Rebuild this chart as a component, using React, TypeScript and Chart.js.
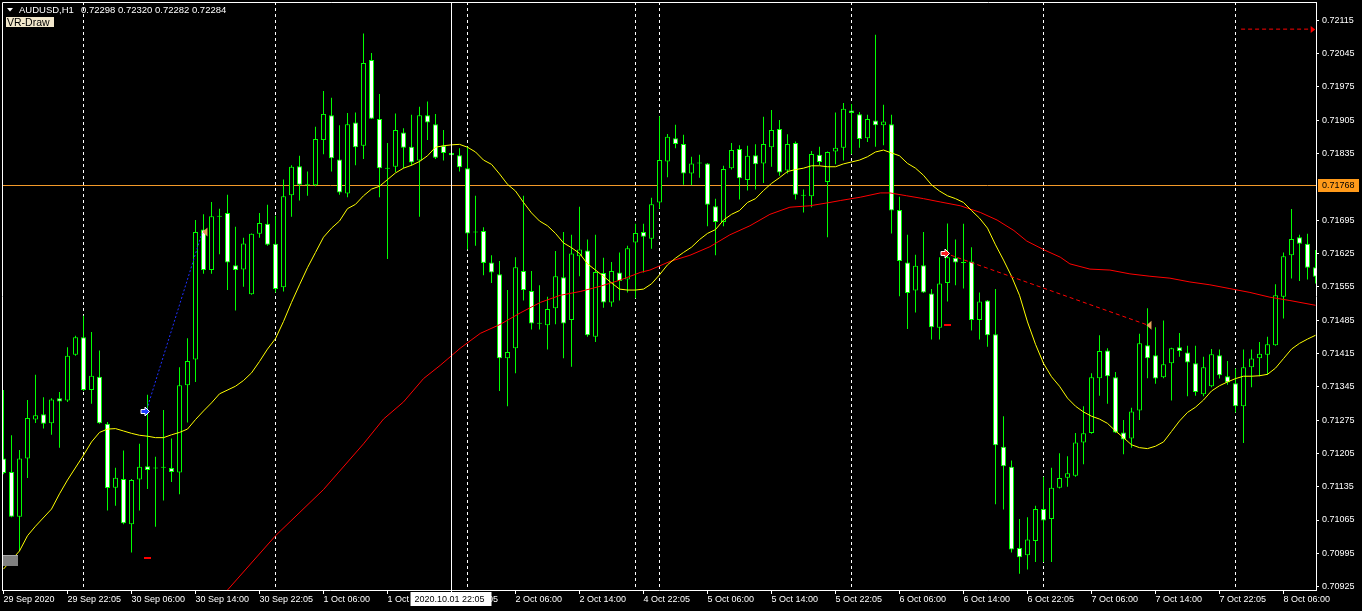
import React, { useEffect, useRef } from 'react';
import { Chart, registerables } from 'chart.js';

Chart.register(...registerables);

// ---------- DATA (AUDUSD H1, one value per bar, bar 0 = 29 Sep 2020 14:00) ----------
const opens = [
  0.71194,0.71166,0.71072,0.71194,0.71276,0.71287,0.71268,0.71321,0.71316,0.71412,
  0.71449,0.71338,0.71366,0.71267,0.71133,0.71151,0.71056,0.71150,0.71178,0.71174,
  0.71175,0.71174,0.71165,0.71348,0.71402,0.71675,0.71590,0.71704,0.71710,0.71600,
  0.71591,0.71539,0.71666,0.71687,0.71645,0.71554,0.71747,0.71808,0.71769,0.71768,
  0.71863,0.71915,0.71822,0.71751,0.71900,0.71851,0.72031,0.71907,0.71805,0.71807,
  0.71879,0.71849,0.71820,0.71915,0.71896,0.71851,0.71836,0.71831,0.71804,0.71671,
  0.71672,0.71606,0.71581,0.71405,0.71426,0.71588,0.71546,0.71478,0.71474,0.71510,
  0.71575,0.71485,0.71619,0.71631,0.71450,0.71584,0.71522,0.71585,0.71570,0.71648,
  0.71670,0.71656,0.71732,0.71818,0.71867,0.71855,0.71793,0.71814,0.71814,0.71724,
  0.71691,0.71804,0.71844,0.71779,0.71831,0.71814,0.71848,0.71886,0.71799,0.71857,
  0.71747,0.71745,0.71832,0.71775,0.71839,0.71847,0.71925,0.71917,0.71867,0.71904,
  0.71894,0.71896,0.71716,0.71606,0.71547,0.71600,0.71541,0.71469,0.71563,0.71616,
  0.71607,0.71608,0.71485,0.71526,0.71455,0.71219,0.71177,0.71006,0.70991,0.71021,
  0.71088,0.71067,0.71133,0.71154,0.71158,0.71228,0.71248,0.71363,0.71421,0.71365,
  0.71249,0.71236,0.71295,0.71432,0.71411,0.71365,0.71394,0.71428,0.71417,0.71394,
  0.71329,0.71346,0.71411,0.71367,0.71352,0.71304,0.71386,0.71405,0.71412,0.71432,
  0.71534,0.71621,0.71659,0.71645,0.71596,
];
const highs = [
  0.71338,0.71243,0.71212,0.71317,0.71370,0.71323,0.71321,0.71334,0.71428,0.71452,
  0.71494,0.71460,0.71421,0.71271,0.71175,0.71211,0.71151,0.71225,0.71328,0.71198,
  0.71296,0.71236,0.71386,0.71447,0.71695,0.71707,0.71733,0.71719,0.71748,0.71681,
  0.71658,0.71667,0.71710,0.71727,0.71704,0.71780,0.71810,0.71830,0.71797,0.71891,
  0.71966,0.71952,0.71894,0.71920,0.71921,0.72087,0.72046,0.71960,0.71857,0.71919,
  0.71888,0.71916,0.71933,0.71944,0.71918,0.71884,0.71838,0.71846,0.71849,0.71746,
  0.71680,0.71621,0.71609,0.71548,0.71617,0.71746,0.71588,0.71558,0.71534,0.71630,
  0.71670,0.71664,0.71723,0.71654,0.71664,0.71616,0.71607,0.71627,0.71641,0.71687,
  0.71687,0.71742,0.71913,0.71876,0.71895,0.71874,0.71828,0.71832,0.71815,0.71740,
  0.71809,0.71857,0.71852,0.71851,0.71854,0.71912,0.71926,0.71905,0.71875,0.71860,
  0.71759,0.71840,0.71849,0.71839,0.71921,0.71941,0.71939,0.71922,0.71916,0.72084,
  0.71937,0.71916,0.71744,0.71664,0.71622,0.71670,0.71550,0.71617,0.71688,0.71654,
  0.71687,0.71638,0.71543,0.71527,0.71550,0.71283,0.71190,0.71067,0.71071,0.71095,
  0.71156,0.71175,0.71205,0.71199,0.71248,0.71304,0.71373,0.71453,0.71426,0.71376,
  0.71275,0.71301,0.71456,0.71510,0.71470,0.71484,0.71427,0.71458,0.71431,0.71431,
  0.71408,0.71424,0.71423,0.71399,0.71383,0.71423,0.71423,0.71439,0.71450,0.71560,
  0.71627,0.71718,0.71664,0.71666,0.71632,
];
const lows = [
  0.71161,0.71071,0.71000,0.71153,0.71269,0.71257,0.71244,0.71217,0.71313,0.71410,
  0.71336,0.71309,0.71267,0.71085,0.71095,0.71056,0.70997,0.71085,0.71130,0.71051,
  0.71106,0.71145,0.71119,0.71270,0.71355,0.71582,0.71582,0.71623,0.71548,0.71505,
  0.71555,0.71538,0.71658,0.71641,0.71543,0.71545,0.71702,0.71736,0.71746,0.71766,
  0.71833,0.71797,0.71748,0.71743,0.71810,0.71823,0.71907,0.71743,0.71613,0.71796,
  0.71804,0.71809,0.71702,0.71863,0.71823,0.71820,0.71830,0.71797,0.71633,0.71641,
  0.71579,0.71563,0.71336,0.71304,0.71373,0.71526,0.71465,0.71465,0.71423,0.71476,
  0.71405,0.71387,0.71577,0.71450,0.71439,0.71511,0.71513,0.71526,0.71543,0.71531,
  0.71585,0.71635,0.71719,0.71785,0.71846,0.71769,0.71768,0.71784,0.71682,0.71621,
  0.71682,0.71801,0.71738,0.71757,0.71759,0.71773,0.71807,0.71788,0.71793,0.71738,
  0.71711,0.71722,0.71810,0.71659,0.71812,0.71820,0.71833,0.71847,0.71859,0.71849,
  0.71852,0.71667,0.71535,0.71466,0.71501,0.71542,0.71444,0.71444,0.71524,0.71558,
  0.71551,0.71463,0.71444,0.71429,0.71098,0.71087,0.70997,0.70952,0.70961,0.70977,
  0.70977,0.70977,0.71131,0.71135,0.71156,0.71182,0.71246,0.71326,0.71309,0.71248,
  0.71203,0.71217,0.71275,0.71363,0.71351,0.71363,0.71316,0.71408,0.71325,0.71326,
  0.71325,0.71344,0.71362,0.71349,0.71291,0.71227,0.71344,0.71367,0.71370,0.71431,
  0.71488,0.71572,0.71567,0.71570,0.71562,
];
const closes = [
  0.71164,0.71072,0.71194,0.71279,0.71285,0.71267,0.71318,0.71314,0.71410,0.71449,
  0.71338,0.71368,0.71268,0.71132,0.71154,0.71058,0.71149,0.71177,0.71170,0.71173,
  0.71176,0.71166,0.71348,0.71399,0.71670,0.71590,0.71703,0.71702,0.71606,0.71590,
  0.71646,0.71666,0.71689,0.71643,0.71550,0.71745,0.71807,0.71769,0.71768,0.71865,
  0.71918,0.71825,0.71753,0.71896,0.71848,0.72025,0.71908,0.71804,0.71803,0.71884,
  0.71847,0.71816,0.71915,0.71900,0.71826,0.71836,0.71831,0.71806,0.71667,0.71669,
  0.71605,0.71585,0.71405,0.71418,0.71596,0.71548,0.71478,0.71477,0.71508,0.71577,
  0.71478,0.71625,0.71633,0.71453,0.71586,0.71522,0.71588,0.71567,0.71636,0.71668,
  0.71660,0.71728,0.71821,0.71870,0.71855,0.71793,0.71814,0.71815,0.71727,0.71691,
  0.71802,0.71842,0.71783,0.71830,0.71812,0.71855,0.71884,0.71795,0.71855,0.71748,
  0.71746,0.71834,0.71817,0.71838,0.71847,0.71929,0.71920,0.71865,0.71907,0.71894,
  0.71902,0.71715,0.71609,0.71542,0.71599,0.71543,0.71470,0.71562,0.71617,0.71606,
  0.71605,0.71485,0.71524,0.71453,0.71222,0.71178,0.71003,0.70987,0.71024,0.71088,
  0.71064,0.71133,0.71153,0.71163,0.71228,0.71247,0.71365,0.71420,0.71367,0.71249,
  0.71234,0.71293,0.71436,0.71405,0.71362,0.71392,0.71426,0.71420,0.71396,0.71334,
  0.71386,0.71413,0.71369,0.71354,0.71304,0.71386,0.71404,0.71414,0.71434,0.71537,
  0.71619,0.71655,0.71645,0.71595,0.71576,
];

// Yellow (fast) moving average, read per bar
const yellowMaBars = [
  0,2,3,4,6,7,8,10,11,12,13,14,15,16,17,18,19,20,21,22,23,24,25,26,27,
  29,30,31,32,33,34,35,36,37,38,39,40,41,42,43,44,45,46,47,48,49,50,51,52,53,54,55,56,57,58,59,
  60,61,62,63,64,65,66,67,68,69,70,71,72,73,74,75,76,77,78,79,80,81,82,83,84,85,86,87,88,89,
  90,91,92,93,94,95,96,97,98,99,100,101,102,103,104,105,106,107,108,109,110,111,112,113,114,
  115,116,117,118,119,120,121,122,123,124,125,126,127,128,129,130,131,132,133,134,135,136,137,
  138,139,140,141,142,143,144,145,146,147,148,149,150,151,152,153,154,155,156,157,158,159,160,
  161,162,163,164,
];
const yellowMaValues = [
  0.70962,0.71000,0.71032,0.71052,0.71088,0.71120,0.71149,0.71201,0.71229,0.71249,0.71256,0.71257,
  0.71252,0.71247,0.71243,0.71241,0.71238,0.71238,0.71244,0.71249,0.71256,0.71276,0.71294,0.71311,0.71330,
  0.71346,0.71358,0.71374,0.71398,0.71424,0.71446,0.71482,0.71522,0.71559,0.71595,0.71627,0.71659,0.71678,
  0.71693,0.71719,0.71728,0.71746,0.71760,0.71766,0.71780,0.71794,0.71804,0.71810,0.71818,0.71830,0.71848,
  0.71851,0.71853,0.71854,0.71848,0.71838,
  0.71821,0.71812,0.71792,0.71770,0.71756,0.71732,0.71710,0.71693,0.71683,0.71667,0.71647,0.71637,0.71625,
  0.71603,0.71590,0.71577,0.71563,0.71550,0.71548,0.71548,0.71550,0.71561,0.71580,0.71601,0.71615,0.71627,
  0.71638,0.71654,0.71667,0.71675,
  0.71695,0.71707,0.71715,0.71732,0.71740,0.71757,0.71772,0.71784,0.71797,0.71801,0.71804,0.71809,0.71809,
  0.71807,0.71807,0.71813,0.71817,0.71821,0.71828,0.71838,0.71842,0.71836,0.71830,0.71814,0.71804,
  0.71789,0.71769,0.71756,0.71746,0.71740,0.71732,0.71715,0.71699,0.71678,0.71643,0.71611,0.71577,0.71537,
  0.71481,0.71434,0.71394,0.71366,0.71346,0.71321,0.71304,0.71292,0.71283,0.71277,
  0.71268,0.71252,0.71238,0.71223,0.71217,0.71215,0.71220,0.71229,0.71251,0.71273,0.71291,0.71302,0.71317,
  0.71336,0.71347,0.71355,0.71362,0.71367,0.71367,0.71368,0.71371,0.71384,0.71404,
  0.71424,0.71436,0.71445,0.71453,
];

// Red (slow) moving average, read at sample bars
const redMaBars = [
  28,34,40,45,47.5,50,52.5,54.6,57.1,59.6,62.1,64.6,67.1,69.6,72.1,74.6,77.1,79.6,80.8,83.3,85.8,
  88.3,90.8,93.3,95.8,98.3,100.8,103.3,104.6,107.1,109.6,110.8,112.9,115,117.1,119.6,122.1,124.2,
  126.3,127.9,130,132.1,133.3,135.8,138.3,140.8,143.3,145.8,148.3,150.8,153.3,155.8,158.3,160.8,164,
];
const redMaValues = [
  0.70918,0.71032,0.71129,0.71225,0.71277,0.71313,0.71362,0.71390,0.71426,0.71457,0.71476,0.71500,
  0.71522,0.71537,0.71545,0.71556,0.71569,0.71585,0.71590,0.71608,0.71621,0.71639,0.71664,0.71683,
  0.71707,0.71722,0.71725,0.71732,0.71736,0.71743,0.71752,0.71752,0.71746,0.71740,0.71733,0.71725,
  0.71711,0.71695,0.71673,0.71651,0.71633,0.71617,0.71603,0.71592,0.71590,0.71582,0.71577,0.71573,
  0.71565,0.71559,0.71551,0.71543,0.71533,0.71526,0.71516,
];

// Axis ticks
const timeTickBars = [0,8,16,24,32,40,48,56,64,72,80,88,96,104,112,120,128,136,144,152,160];
const timeTickLabels = [
  '29 Sep 2020','29 Sep 22:05','30 Sep 06:00','30 Sep 14:00','30 Sep 22:05','1 Oct 06:00',
  '1 Oct 14:00','1 Oct 22:05','2 Oct 06:00','2 Oct 14:00','4 Oct 22:05','5 Oct 06:00',
  '5 Oct 14:00','5 Oct 22:05','6 Oct 06:00','6 Oct 14:00','6 Oct 22:05','7 Oct 06:00',
  '7 Oct 14:00','7 Oct 22:05','8 Oct 06:00',
];
const priceTicks = [
  0.72115,0.72045,0.71975,0.71905,0.71835,0.71695,0.71625,0.71555,0.71485,
  0.71415,0.71345,0.71275,0.71205,0.71135,0.71065,0.70995,0.70925,
];

// Objects on the chart
const separatorBars = [10, 34, 58, 79, 82, 106, 130, 154];
const crosshairBar = 56;
const crosshairLabel = '2020.10.01 22:05';
const hLinePrice = 0.71768;
const headerSymbol = 'AUDUSD,H1';
const headerValues = ['0.72298', '0.72320', '0.72282', '0.72284'];
const indicatorLabel = 'VR-Draw';
const blueLineBars = [17.9, 24.8];
const blueLineValues = [0.71297, 0.71667];
const redTrendBars = [117.6, 143.1];
const redTrendValues = [0.71626, 0.71474];
const topRedBars = [154.7, 163.4];
const topRedValues = [0.72096, 0.72096];
const blueArrowBar = 17.7;
const blueArrowPrice = 0.71293;
const redArrowBar = 117.7;
const redArrowPrice = 0.71626;
const triangleBars = [25, 143];
const trianglePrices = [0.71670, 0.71474];
const redTickBars = [18, 118];
const redTickPrices = [0.70985, 0.71474];
const greyBoxBars = [-0.1, 1.8];
const greyBoxPrices = [0.70992, 0.70969];

// ---------- layout constants ----------
const X_MIN = -0.1875;
const X_MAX = 164.0625;
const Y_MIN = 0.70918;
const Y_MAX = 0.72153;
const FONT = "'Liberation Sans', Arial, sans-serif";
const LIME = '#00FF00';
const ORANGE = '#F39A2A';

const mtPlugin = {
  id: 'mt4',
  beforeDraw(chart: any) {
    const ctx = chart.ctx;
    ctx.save();
    ctx.fillStyle = '#000';
    ctx.fillRect(0, 0, chart.width, chart.height);
    ctx.restore();
  },
  beforeDatasetsDraw(chart: any) {
    const { ctx, chartArea: a, scales } = chart;
    const x = scales.x, y = scales.y;
    ctx.save();
    ctx.lineWidth = 1;
    ctx.strokeStyle = '#FFFFFF';
    ctx.setLineDash([3, 3]);
    for (const b of separatorBars) {
      const px = Math.floor(x.getPixelForValue(b)) + 0.5;
      ctx.beginPath();
      ctx.moveTo(px, a.top);
      ctx.lineTo(px, a.bottom);
      ctx.stroke();
    }
    ctx.setLineDash([]);
    const hy = Math.floor(y.getPixelForValue(hLinePrice)) + 0.5;
    ctx.strokeStyle = ORANGE;
    ctx.beginPath();
    ctx.moveTo(a.left, hy);
    ctx.lineTo(a.right, hy);
    ctx.stroke();
    ctx.restore();
  },
  afterDatasetsDraw(chart: any) {
    const { ctx, chartArea: a, scales } = chart;
    const x = scales.x, y = scales.y;
    ctx.save();
    ctx.beginPath();
    ctx.rect(a.left, a.top, a.right - a.left, a.bottom - a.top);
    ctx.clip();

    // crosshair vertical
    const cx = Math.floor(x.getPixelForValue(crosshairBar)) + 0.5;
    ctx.strokeStyle = '#FFFFFF';
    ctx.lineWidth = 1;
    ctx.beginPath();
    ctx.moveTo(cx, a.top);
    ctx.lineTo(cx, a.bottom);
    ctx.stroke();

    // right arrows
    const arrow = (bx: number, py: number, color: string) => {
      const px = Math.round(x.getPixelForValue(bx));
      const pyy = Math.round(y.getPixelForValue(py)) + 0.5;
      ctx.beginPath();
      ctx.moveTo(px - 4, pyy - 2);
      ctx.lineTo(px, pyy - 2);
      ctx.lineTo(px, pyy - 4.5);
      ctx.lineTo(px + 4.5, pyy);
      ctx.lineTo(px, pyy + 4.5);
      ctx.lineTo(px, pyy + 2);
      ctx.lineTo(px - 4, pyy + 2);
      ctx.closePath();
      ctx.fillStyle = color;
      ctx.fill();
      ctx.strokeStyle = '#FFFFFF';
      ctx.lineWidth = 1;
      ctx.stroke();
    };
    arrow(blueArrowBar, blueArrowPrice, '#1F3DFF');
    arrow(redArrowBar, redArrowPrice, '#FF1E1E');

    // orange triangles
    ctx.fillStyle = '#E3A25A';
    triangleBars.forEach((b, i) => {
      const px = x.getPixelForValue(b);
      const py = y.getPixelForValue(trianglePrices[i]);
      ctx.beginPath();
      ctx.moveTo(px - 1, py);
      ctx.lineTo(px + 4, py - 4.5);
      ctx.lineTo(px + 4, py + 4.5);
      ctx.closePath();
      ctx.fill();
    });

    // red ticks
    ctx.fillStyle = '#FF0000';
    redTickBars.forEach((b, i) => {
      const px = Math.round(x.getPixelForValue(b) - 3.5);
      const py = Math.round(y.getPixelForValue(redTickPrices[i]) - 1);
      ctx.fillRect(px, py, 7, 2);
    });

    // arrow head at the end of top red line
    const ex = x.getPixelForValue(topRedBars[1]);
    const ey = Math.round(y.getPixelForValue(topRedValues[1])) + 0.5;
    ctx.fillStyle = '#FF0000';
    ctx.beginPath();
    ctx.moveTo(ex, ey - 3.5);
    ctx.lineTo(ex + 4.5, ey);
    ctx.lineTo(ex, ey + 3.5);
    ctx.closePath();
    ctx.fill();

    // grey box bottom-left
    const gx0 = x.getPixelForValue(greyBoxBars[0]);
    const gx1 = x.getPixelForValue(greyBoxBars[1]);
    const gy0 = y.getPixelForValue(greyBoxPrices[0]);
    const gy1 = y.getPixelForValue(greyBoxPrices[1]);
    ctx.fillStyle = '#808080';
    ctx.fillRect(Math.round(gx0), Math.round(gy0), Math.round(gx1 - gx0), Math.round(gy1 - gy0));
    ctx.fillStyle = '#A8A8A8';
    ctx.fillRect(Math.round(gx0), Math.round(gy0), Math.round(gx1 - gx0), 1);
    ctx.restore();
  },
  afterDraw(chart: any) {
    const { ctx, chartArea: a, scales } = chart;
    const x = scales.x, y = scales.y;
    ctx.save();
    // frame top/left
    ctx.strokeStyle = '#FFFFFF';
    ctx.lineWidth = 1;
    ctx.beginPath();
    ctx.moveTo(a.left + 0.5, a.bottom);
    ctx.lineTo(a.left + 0.5, a.top + 0.5);
    ctx.lineTo(a.right + 1, a.top + 0.5);
    ctx.stroke();

    // header
    ctx.fillStyle = '#FFFFFF';
    ctx.beginPath();
    ctx.moveTo(7, 8);
    ctx.lineTo(13, 8);
    ctx.lineTo(10, 11.5);
    ctx.closePath();
    ctx.fill();
    ctx.font = `9.5px ${FONT}`;
    ctx.textBaseline = 'alphabetic';
    ctx.textAlign = 'left';
    ctx.fillText(headerSymbol, 19, 13);
    ctx.fillText(headerValues.join(' '), 81, 13);

    // indicator label
    ctx.fillStyle = '#F2E8CC';
    ctx.fillRect(6, 17, 48, 10);
    ctx.fillStyle = '#000000';
    ctx.font = `10.5px ${FONT}`;
    ctx.fillText(indicatorLabel, 7, 26);

    // orange price label
    const hy = Math.floor(y.getPixelForValue(hLinePrice));
    ctx.fillStyle = '#FF9A1A';
    ctx.fillRect(a.right + 2, hy - 6, 41, 13);
    ctx.fillStyle = '#000000';
    ctx.font = `9px ${FONT}`;
    ctx.textBaseline = 'middle';
    ctx.fillText(hLinePrice.toFixed(5), a.right + 6, hy + 0.5);

    // crosshair time label
    const cx = Math.floor(x.getPixelForValue(crosshairBar)) + 0.5;
    ctx.strokeStyle = '#FFFFFF';
    ctx.beginPath();
    ctx.moveTo(cx, a.bottom);
    ctx.lineTo(cx, a.bottom + 3);
    ctx.stroke();
    ctx.fillStyle = '#FFFFFF';
    ctx.fillRect(cx - 41, a.bottom + 2, 81, 14);
    ctx.fillStyle = '#000000';
    ctx.fillText(crosshairLabel, cx - 37, a.bottom + 9.5);
    ctx.restore();
  },
};

export default function App() {
  const ref = useRef<HTMLCanvasElement>(null);
  useEffect(() => {
    document.body.style.margin = '0';
    document.body.style.background = '#000';
    const isBull = (i: number) => closes[i] >= opens[i];
    const wickData = opens.map((_, i) => ({ x: i, y: [lows[i], highs[i]] }));
    const bodyData = opens.map((o, i) => ({ x: i, y: [o, closes[i]] }));
    const yellowData = yellowMaBars.map((b, i) => ({ x: b, y: yellowMaValues[i] }));
    const redData = redMaBars.map((b, i) => ({ x: b, y: redMaValues[i] }));
    const blueData = blueLineBars.map((b, i) => ({ x: b, y: blueLineValues[i] }));
    const redTrendData = redTrendBars.map((b, i) => ({ x: b, y: redTrendValues[i] }));
    const topRedData = topRedBars.map((b, i) => ({ x: b, y: topRedValues[i] }));

    const lineBase = {
      type: 'line' as const,
      pointRadius: 0,
      borderWidth: 1,
      tension: 0,
      fill: false,
      spanGaps: true,
    };

    const chart = new Chart(ref.current as HTMLCanvasElement, {
      type: 'bar',
      data: {
        datasets: [
          { ...lineBase, label: 'top', data: topRedData, borderColor: '#FF0000', borderDash: [4, 3], order: 0 },
          { ...lineBase, label: 'trend', data: redTrendData, borderColor: '#FF0000', borderDash: [4, 3], order: 0 },
          { ...lineBase, label: 'blue', data: blueData, borderColor: '#2030FF', borderDash: [2, 2], order: 0 },
          { ...lineBase, label: 'MA fast', data: yellowData, borderColor: '#FFFF00', order: 1 },
          { ...lineBase, label: 'MA slow', data: redData, borderColor: '#FF0000', order: 1 },
          {
            type: 'bar',
            label: 'body',
            data: bodyData as any,
            backgroundColor: (c: any) => (isBull(c.dataIndex) ? '#000000' : '#FFFFFF'),
            borderColor: LIME,
            borderWidth: 1,
            borderSkipped: false,
            barThickness: 5,
            minBarLength: 1,
            grouped: false,
            inflateAmount: 0,
            order: 2,
          } as any,
          {
            type: 'bar',
            label: 'wick',
            data: wickData as any,
            backgroundColor: LIME,
            borderWidth: 0,
            barThickness: 1,
            minBarLength: 1,
            grouped: false,
            inflateAmount: 0,
            order: 3,
          } as any,
        ],
      },
      options: {
        responsive: false,
        animation: false,
        devicePixelRatio: 1,
        events: [],
        layout: { padding: { left: 2, top: 2, right: 0, bottom: 0 } },
        plugins: { legend: { display: false }, tooltip: { enabled: false } },
        scales: {
          x: {
            type: 'linear',
            position: 'bottom',
            min: X_MIN,
            max: X_MAX,
            offset: false,
            grid: { drawOnChartArea: false, drawTicks: true, tickLength: 4, color: '#FFFFFF', offset: false },
            border: { display: true, color: '#FFFFFF', width: 1 },
            ticks: {
              autoSkip: false,
              maxRotation: 0,
              minRotation: 0,
              align: 'start',
              padding: 0,
              color: '#FFFFFF',
              font: { family: FONT, size: 9 },
              callback: (v: any) => {
                const idx = timeTickBars.indexOf(Number(v));
                return idx >= 0 ? timeTickLabels[idx] : '';
              },
            },
            afterBuildTicks: (s: any) => {
              s.ticks = timeTickBars.map((v) => ({ value: v }));
            },
            afterFit: (s: any) => {
              s.height = 21;
              s.paddingLeft = 0;
              s.paddingRight = 0;
            },
          },
          y: {
            type: 'linear',
            position: 'right',
            min: Y_MIN,
            max: Y_MAX,
            beginAtZero: false,
            grid: { drawOnChartArea: false, drawTicks: true, tickLength: 3, color: '#FFFFFF' },
            border: { display: true, color: '#FFFFFF', width: 1 },
            ticks: {
              autoSkip: false,
              padding: 3,
              color: '#FFFFFF',
              font: { family: FONT, size: 9 },
              callback: (v: any) => Number(v).toFixed(5),
            },
            afterBuildTicks: (s: any) => {
              s.ticks = priceTicks.map((v) => ({ value: v }));
            },
            afterFit: (s: any) => {
              s.width = 46;
              s.paddingTop = 0;
              s.paddingBottom = 0;
            },
          },
        },
      } as any,
      plugins: [mtPlugin],
    });
    return () => chart.destroy();
  }, []);
  return (
    <canvas
      ref={ref}
      width={1362}
      height={611}
      style={{ display: 'block', width: 1362, height: 611 }}
    />
  );
}
